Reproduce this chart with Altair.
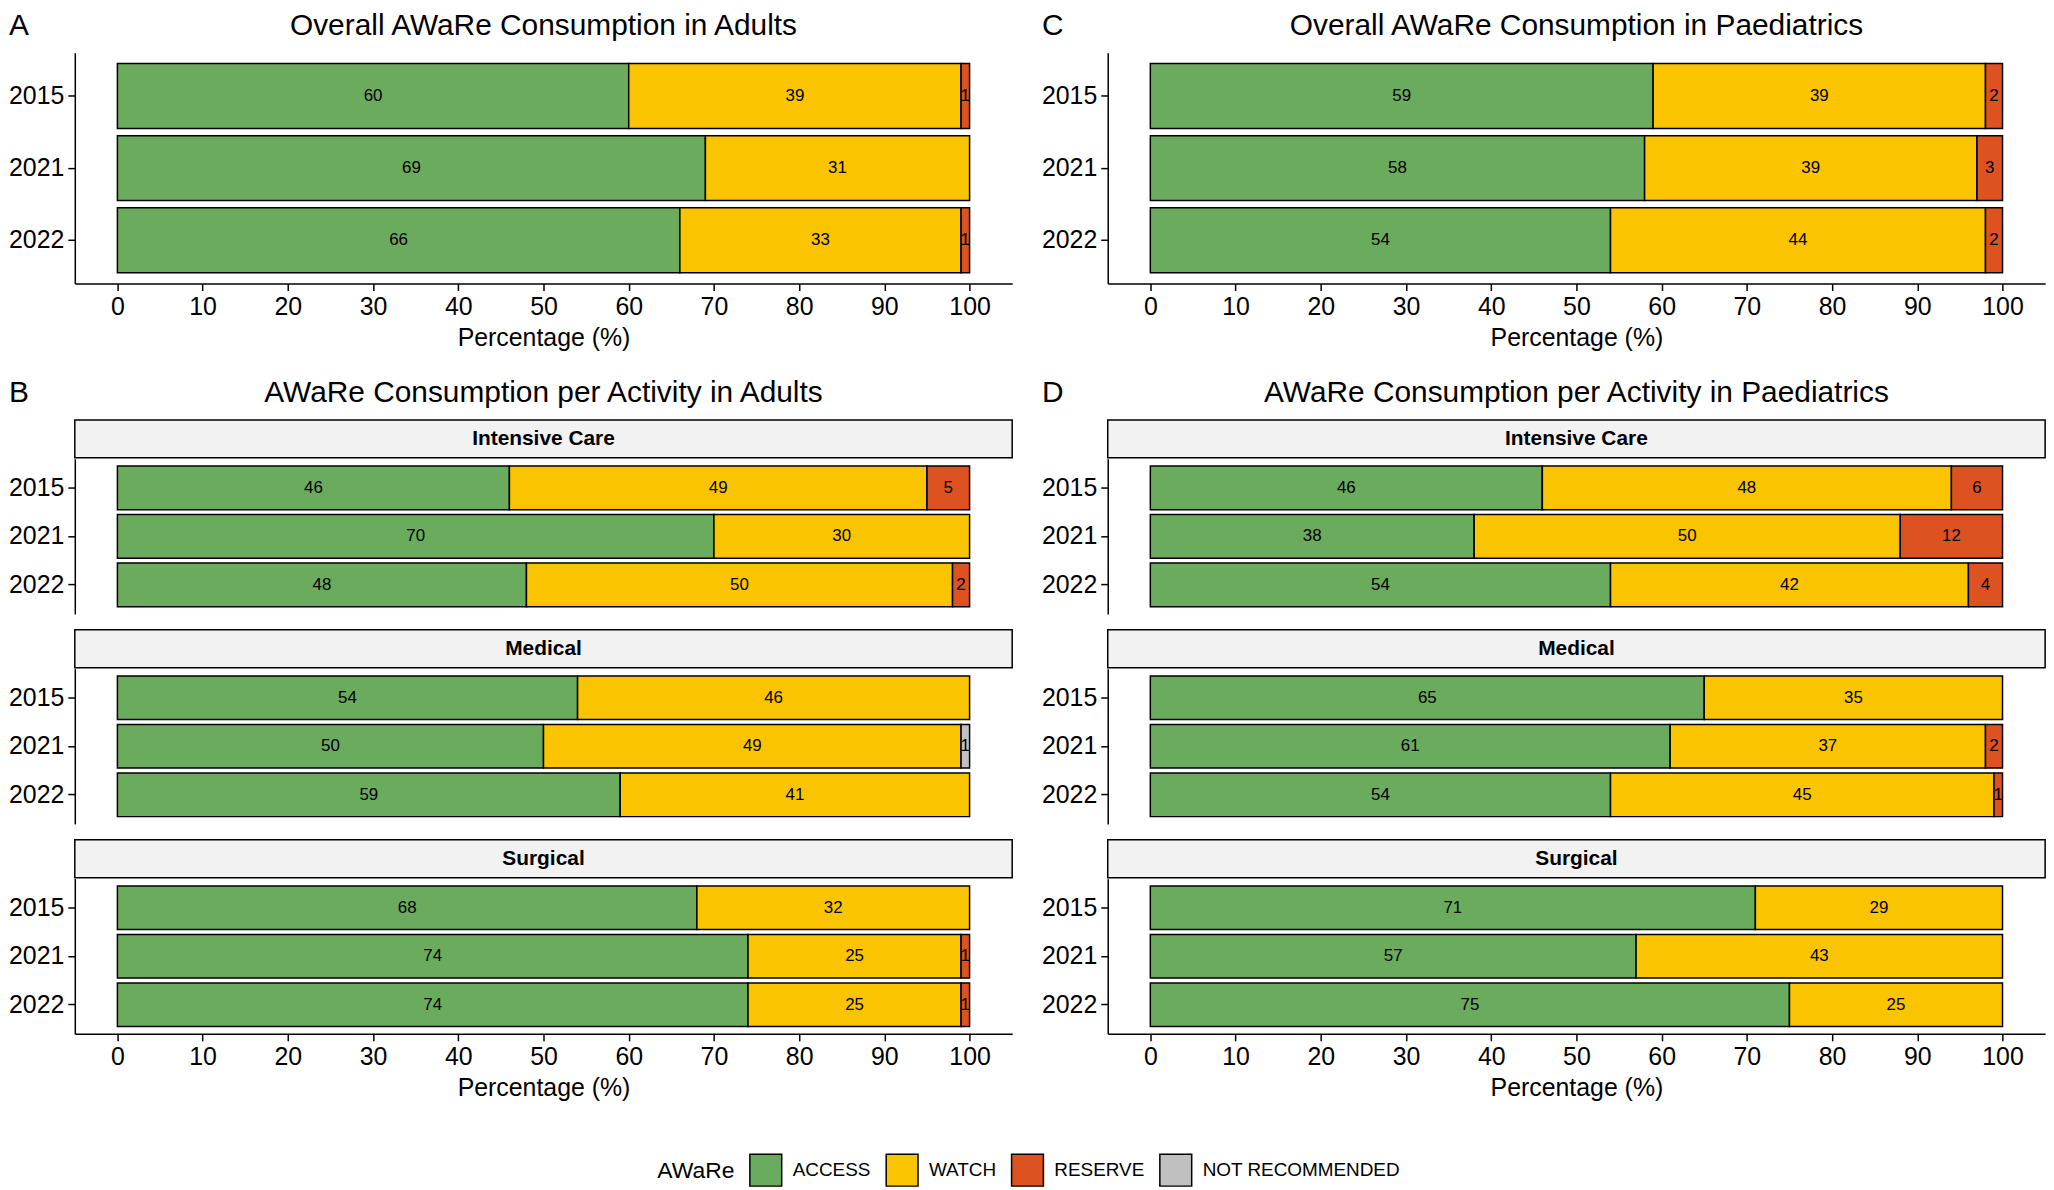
import altair as alt
import pandas as pd

years = ["2015", "2021", "2022"]
aware_classes = ["ACCESS", "WATCH", "RESERVE", "NOT RECOMMENDED"]
aware_colors = ["#6AAB5E", "#FAC400", "#DC5221", "#C0C0C0"]
activities = ["Intensive Care", "Medical", "Surgical"]

# values per year (2015, 2021, 2022), percentages
adults_overall_access = [60, 69, 66]
adults_overall_watch = [39, 31, 33]
adults_overall_reserve = [1, 0, 1]
adults_overall_notrec = [0, 0, 0]

paed_overall_access = [59, 58, 54]
paed_overall_watch = [39, 39, 44]
paed_overall_reserve = [2, 3, 2]
paed_overall_notrec = [0, 0, 0]

adults_icu_access = [46, 70, 48]
adults_icu_watch = [49, 30, 50]
adults_icu_reserve = [5, 0, 2]
adults_icu_notrec = [0, 0, 0]

adults_med_access = [54, 50, 59]
adults_med_watch = [46, 49, 41]
adults_med_reserve = [0, 0, 0]
adults_med_notrec = [0, 1, 0]

adults_surg_access = [68, 74, 74]
adults_surg_watch = [32, 25, 25]
adults_surg_reserve = [0, 1, 1]
adults_surg_notrec = [0, 0, 0]

paed_icu_access = [46, 38, 54]
paed_icu_watch = [48, 50, 42]
paed_icu_reserve = [6, 12, 4]
paed_icu_notrec = [0, 0, 0]

paed_med_access = [65, 61, 54]
paed_med_watch = [35, 37, 45]
paed_med_reserve = [0, 2, 1]
paed_med_notrec = [0, 0, 0]

paed_surg_access = [71, 57, 75]
paed_surg_watch = [29, 43, 25]
paed_surg_reserve = [0, 0, 0]
paed_surg_notrec = [0, 0, 0]

x_ticks = list(range(0, 101, 10))

W = 942
HEAD_Y = -27
FONT = "Liberation Sans Narrow, Arial Narrow, Liberation Sans, Arial, sans-serif"
color_scale = alt.Scale(domain=aware_classes, range=aware_colors)


def frame(access, watch, reserve, notrec):
    rows = []
    for i, yr in enumerate(years):
        for k, vals in enumerate([access, watch, reserve, notrec]):
            if vals[i] > 0:
                rows.append({"year": yr, "AWaRe": aware_classes[k], "order": k, "pct": vals[i]})
    return pd.DataFrame(rows)


def header_layers(letter, title):
    d = pd.DataFrame({"letter": [letter], "title": [title]})
    lt = alt.Chart(d).mark_text(font=FONT, fontSize=30, align="left", baseline="middle",
                                color="black").encode(
        text="letter:N", x=alt.value(-66), y=alt.value(HEAD_Y))
    tt = alt.Chart(d).mark_text(font=FONT, fontSize=30, align="center", baseline="middle",
                                color="black").encode(
        text="title:N", x=alt.value(W / 2), y=alt.value(HEAD_Y))
    return [lt, tt]


def bar_panel(df, height, with_x_axis, header=None):
    xscale = alt.Scale(domain=[-5, 105], nice=False, zero=False)
    if with_x_axis:
        xaxis = alt.Axis(values=x_ticks, title="Percentage (%)", format="d")
    else:
        xaxis = None
    yenc = alt.Y("year:N", sort=years, title=None,
                 scale=alt.Scale(paddingInner=0.1, paddingOuter=0.15))
    base = alt.Chart(df).transform_stack(
        stack="pct", groupby=["year"],
        sort=[alt.SortField(field="order", order="ascending")],
        as_=["x0", "x1"],
    ).transform_calculate(mid="(datum.x0 + datum.x1) / 2")
    bars = base.mark_bar(stroke="black", strokeWidth=1.5, opacity=1).encode(
        x=alt.X("x0:Q", scale=xscale, axis=xaxis),
        x2="x1:Q",
        y=yenc,
        color=alt.Color("AWaRe:N", scale=color_scale, legend=None),
    )
    labels = base.mark_text(font=FONT, fontSize=17, color="black").encode(
        x=alt.X("mid:Q", scale=xscale, axis=xaxis),
        y=yenc,
        text=alt.Text("pct:Q", format="d"),
    )
    layers = [bars, labels]
    if header:
        layers += header_layers(*header)
    return alt.layer(*layers).properties(width=W, height=height)


def strip(name, header=None):
    d = pd.DataFrame({"activity": [name]})
    t = alt.Chart(d).mark_text(font=FONT, fontSize=21, fontWeight="bold", color="black").encode(
        text="activity:N", x=alt.value(W / 2), y=alt.value(19))
    layers = [t]
    if header:
        layers += header_layers(*header)
    return alt.layer(*layers).properties(
        width=W, height=38,
        view=alt.ViewBackground(fill="#F2F2F2", stroke="black", strokeWidth=1.5))


def column(letter_a, title_a, overall_df, letter_b, title_b, act_dfs):
    top = bar_panel(overall_df, 232, True, header=(letter_a, title_a))
    pairs = []
    for i, (name, df) in enumerate(zip(activities, act_dfs)):
        s = strip(name, header=(letter_b, title_b) if i == 0 else None)
        p = bar_panel(df, 156, i == 2)
        pairs.append(alt.vconcat(s, p, spacing=0))
    stack = alt.vconcat(*pairs, spacing=15)
    return alt.vconcat(top, stack, spacing=27)


left = column(
    "A", "Overall AWaRe Consumption in Adults",
    frame(adults_overall_access, adults_overall_watch, adults_overall_reserve, adults_overall_notrec),
    "B", "AWaRe Consumption per Activity in Adults",
    [frame(adults_icu_access, adults_icu_watch, adults_icu_reserve, adults_icu_notrec),
     frame(adults_med_access, adults_med_watch, adults_med_reserve, adults_med_notrec),
     frame(adults_surg_access, adults_surg_watch, adults_surg_reserve, adults_surg_notrec)],
)
right = column(
    "C", "Overall AWaRe Consumption in Paediatrics",
    frame(paed_overall_access, paed_overall_watch, paed_overall_reserve, paed_overall_notrec),
    "D", "AWaRe Consumption per Activity in Paediatrics",
    [frame(paed_icu_access, paed_icu_watch, paed_icu_reserve, paed_icu_notrec),
     frame(paed_med_access, paed_med_watch, paed_med_reserve, paed_med_notrec),
     frame(paed_surg_access, paed_surg_watch, paed_surg_reserve, paed_surg_notrec)],
)

legend_chart = alt.Chart(pd.DataFrame({"AWaRe": aware_classes})).mark_square(size=0).encode(
    color=alt.Color(
        "AWaRe:N", scale=color_scale,
        legend=alt.Legend(
            title="AWaRe", orient="top", direction="horizontal", titleOrient="left",
            offset=0, titleFont=FONT, labelFont=FONT, titleFontSize=23,
            titleFontWeight="normal", titleColor="black", labelFontSize=19,
            labelColor="black", labelLimit=0, symbolType="square", symbolSize=1024,
            symbolStrokeColor="black", symbolStrokeWidth=1.5, symbolOpacity=1,
            labelOffset=10, columnPadding=12, titlePadding=14, padding=0,
        ),
    )
).properties(width=810, height=1)

chart = alt.vconcat(
    alt.hconcat(left, right, spacing=28),
    legend_chart,
    spacing=53,
    center=True,
).resolve_legend(color="independent").properties(
    padding=0
).configure_view(stroke=None).configure_axis(
    labelFont=FONT, titleFont=FONT, labelFontSize=25, titleFontSize=25,
    labelColor="black", titleColor="black", titleFontWeight="normal",
    domainColor="black", domainWidth=1.5, tickColor="black", tickWidth=1.5,
    tickSize=7, labelPadding=4, grid=False,
).configure_axisX(titlePadding=6)

chart.save("out.html", embed_options={"renderer": "svg", "actions": False})
